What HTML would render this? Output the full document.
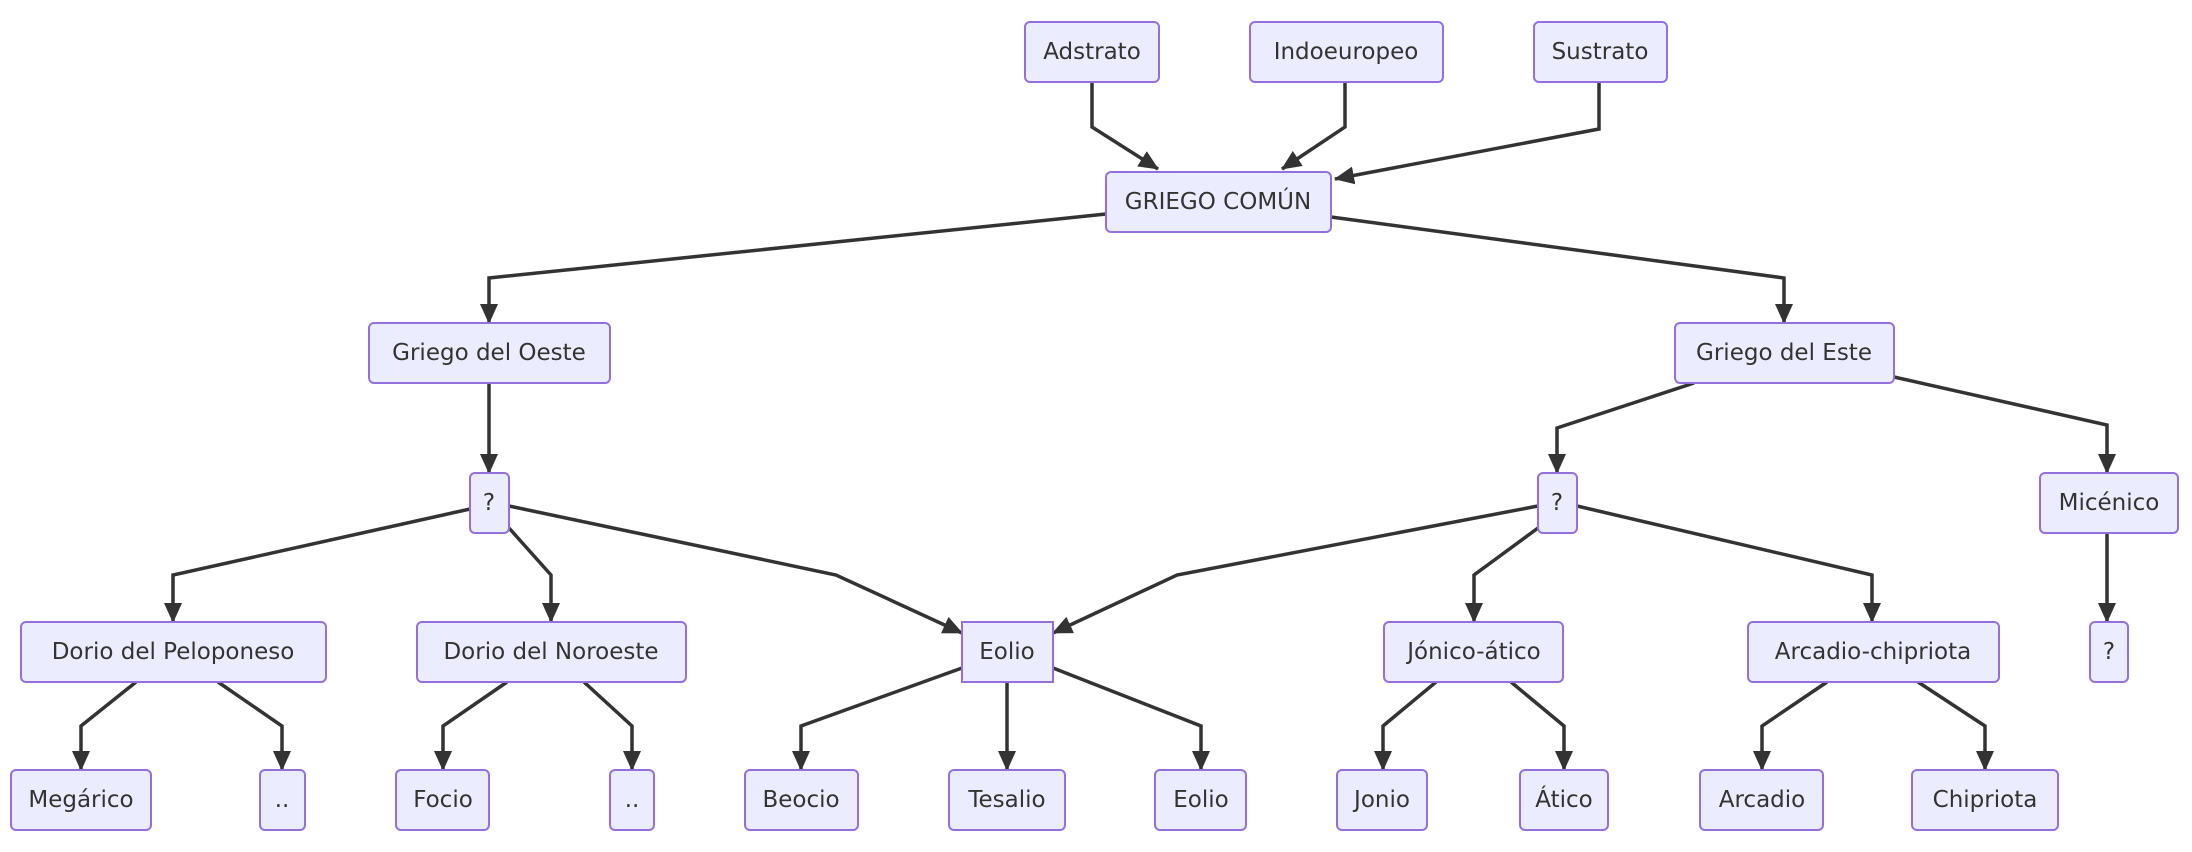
<!DOCTYPE html>
<html><head><meta charset="utf-8"><style>
html,body{margin:0;padding:0;background:#fff;}
svg{display:block;}
text{font-family:"Trebuchet MS","DejaVu Sans","Liberation Sans",sans-serif;font-size:23px;fill:#333;text-anchor:middle;dominant-baseline:central;}
rect{fill:#ECECFF;stroke:#9370DB;stroke-width:2;}
path{fill:none;stroke:#333;stroke-width:3.5;}
</style></head><body>
<svg width="2192" height="852" viewBox="0 0 2192 852">
<defs><marker id="a" viewBox="0 0 20 18" refX="19" refY="9" markerWidth="20" markerHeight="18" markerUnits="userSpaceOnUse" orient="auto"><path d="M0,0 L20,9 L0,18 z" style="fill:#333;stroke:none"/></marker></defs>
<g marker-end="url(#a)">
<path d="M1092,82 L1092,127 L1158,169"/>
<path d="M1345,82 L1345,127 L1282,169"/>
<path d="M1599,82 L1599,129 L1335,179"/>
<path d="M1106,214 L489,278 L489,323"/>
<path d="M1331,217 L1784,278 L1784,323"/>
<path d="M489,383 L489,473"/>
<path d="M1694,383 L1557,428 L1557,473"/>
<path d="M1894,377 L2107,425 L2107,473"/>
<path d="M470,509 L173,575 L173,622"/>
<path d="M509,528 L551,575 L551,622"/>
<path d="M509,506 L836,575 L962,633"/>
<path d="M1538,506 L1177,575 L1053,633"/>
<path d="M1538,528 L1474,575 L1474,622"/>
<path d="M1577,506 L1872,575 L1872,622"/>
<path d="M2107,533 L2107,622"/>
<path d="M136,682 L81,726 L81,770"/>
<path d="M218,682 L282,726 L282,770"/>
<path d="M507,682 L443,726 L443,770"/>
<path d="M584,682 L632,726 L632,770"/>
<path d="M962,668 L801,726 L801,770"/>
<path d="M1007,682 L1007,770"/>
<path d="M1053,668 L1201,726 L1201,770"/>
<path d="M1436,682 L1383,726 L1383,770"/>
<path d="M1511,682 L1564,726 L1564,770"/>
<path d="M1827,682 L1762,726 L1762,770"/>
<path d="M1918,682 L1985,726 L1985,770"/>
</g>
<g>
<rect x="1025" y="22" width="134" height="60" rx="5"/><text x="1092" y="52">Adstrato</text>
<rect x="1250" y="22" width="193" height="60" rx="5"/><text x="1346" y="52">Indoeuropeo</text>
<rect x="1534" y="22" width="133" height="60" rx="5"/><text x="1600" y="52">Sustrato</text>
<rect x="1106" y="172" width="225" height="60" rx="5"/><text x="1218" y="202">GRIEGO COMÚN</text>
<rect x="369" y="323" width="241" height="60" rx="5"/><text x="489" y="353">Griego del Oeste</text>
<rect x="1675" y="323" width="219" height="60" rx="5"/><text x="1784" y="353">Griego del Este</text>
<rect x="470" y="473" width="39" height="60" rx="5"/><text x="489" y="503">?</text>
<rect x="1538" y="473" width="39" height="60" rx="5"/><text x="1557" y="503">?</text>
<rect x="2040" y="473" width="138" height="60" rx="5"/><text x="2109" y="503">Micénico</text>
<rect x="21" y="622" width="305" height="60" rx="5"/><text x="173" y="652">Dorio del Peloponeso</text>
<rect x="417" y="622" width="269" height="60" rx="5"/><text x="551" y="652">Dorio del Noroeste</text>
<rect x="962" y="622" width="91" height="60"/><text x="1007" y="652">Eolio</text>
<rect x="1384" y="622" width="179" height="60" rx="5"/><text x="1474" y="652">Jónico-ático</text>
<rect x="1748" y="622" width="251" height="60" rx="5"/><text x="1873" y="652">Arcadio-chipriota</text>
<rect x="2090" y="622" width="38" height="60" rx="5"/><text x="2109" y="652">?</text>
<rect x="11" y="770" width="140" height="60" rx="5"/><text x="81" y="800">Megárico</text>
<rect x="260" y="770" width="45" height="60" rx="5"/><text x="282" y="800">..</text>
<rect x="396" y="770" width="93" height="60" rx="5"/><text x="443" y="800">Focio</text>
<rect x="610" y="770" width="44" height="60" rx="5"/><text x="632" y="800">..</text>
<rect x="745" y="770" width="113" height="60" rx="5"/><text x="801" y="800">Beocio</text>
<rect x="949" y="770" width="116" height="60" rx="5"/><text x="1007" y="800">Tesalio</text>
<rect x="1155" y="770" width="91" height="60" rx="5"/><text x="1201" y="800">Eolio</text>
<rect x="1337" y="770" width="90" height="60" rx="5"/><text x="1382" y="800">Jonio</text>
<rect x="1520" y="770" width="88" height="60" rx="5"/><text x="1564" y="800">Ático</text>
<rect x="1700" y="770" width="123" height="60" rx="5"/><text x="1762" y="800">Arcadio</text>
<rect x="1912" y="770" width="146" height="60" rx="5"/><text x="1985" y="800">Chipriota</text>
</g>
</svg>
</body></html>
